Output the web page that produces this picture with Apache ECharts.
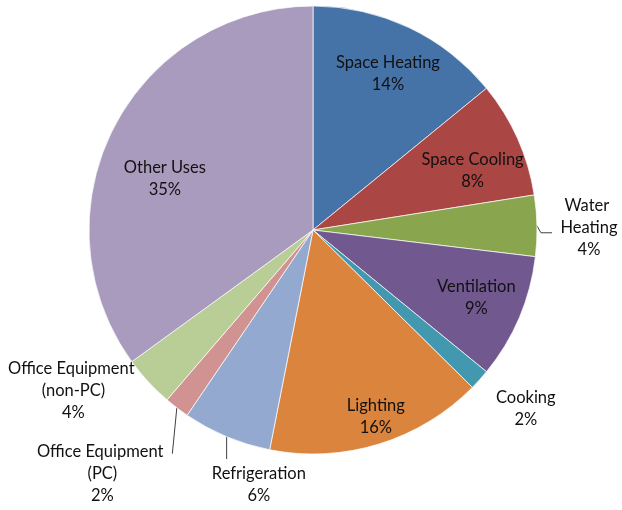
<!DOCTYPE html>
<html><head><meta charset="utf-8">
<script src="https://cdn.jsdelivr.net/npm/echarts@6/dist/echarts.min.js"></script>
<style>html,body{margin:0;padding:0;background:#fff}#c{width:622px;height:510px}</style>
</head><body><div id="c"></div>
<script>
// ---- data ----
const categories = ['Space Heating','Space Cooling','Water Heating','Ventilation','Cooking','Lighting','Refrigeration','Office Equipment (PC)','Office Equipment (non-PC)','Other Uses'];
const shares = [14.1, 8.4, 4.4, 9.0, 1.5, 15.7, 6.4, 1.8, 3.7, 35.0];

// ---- style ----
const colors = ['#4572A7','#AA4643','#89A54E','#71588F','#4198AF','#DB843D','#93A9CF','#D19392','#B9CD96','#A99BBD'];
// label placement: radius fraction, angle shift (deg), wrap width, leader type
const labelStyle = [
  {rf:0.775, da:0.2},
  {rf:0.76,  da:3.8},
  {rf:1.232, da:0.5, w:66, line:'elbow'},
  {rf:0.79,  da:-0.4},
  {rf:1.239, da:-2.0},
  {rf:0.88,  da:-1.5},
  {rf:1.164, da:-10.7, line:'down'},
  {rf:1.438, da:3.4, w:150, line:'toRight'},
  {rf:1.288, da:8.8, w:150},
  {rf:0.70,  da:-7.9}
];
const CX = 313, CY = 230, R = 224;
const FONT = 'Lato';

const total = shares.reduce((a,b)=>a+b,0);
const starts = []; let acc = 0; shares.forEach(v => { starts.push(acc); acc += v; });
function midAngle(i){ return -Math.PI/2 + 2*Math.PI*(starts[i] + shares[i]/2)/total; }

const chart = echarts.init(document.getElementById('c'), null, {renderer:'canvas'});

const dataItems = categories.map((name, i) => {
  const s = labelStyle[i];
  const item = { name, value: shares[i], itemStyle: { color: colors[i] } };
  const lbl = { position: s.line ? 'outside' : 'inside' };
  if (s.w) { lbl.width = s.w; lbl.overflow = 'break'; }
  item.label = lbl;
  if (s.line) item.labelLine = { show: true, length: 0, length2: 0 };
  return item;
});

chart.setOption({
  backgroundColor: '#fff',
  animation: false,
  series: [{
    type: 'pie',
    center: [CX, CY],
    radius: [0, R],
    startAngle: 90,
    clockwise: true,
    avoidLabelOverlap: false,
    itemStyle: { borderColor: 'rgba(255,255,255,0.7)', borderWidth: 1 },
    label: {
      show: true,
      color: '#111',
      fontFamily: FONT,
      fontSize: 16.5,
      lineHeight: 22,
      align: 'center',
      textBorderWidth: 0,
      formatter: p => p.name + '\n' + Math.round(p.percent) + '%'
    },
    labelLine: { show: false, lineStyle: { color: '#404040', width: 1 } },
    labelLayout: function (p) {
      const i = p.dataIndex, s = labelStyle[i];
      const a = midAngle(i) + s.da * Math.PI / 180;
      const x = CX + R * s.rf * Math.cos(a);
      const y = CY + R * s.rf * Math.sin(a);
      const res = { x: x, y: y, align: 'center', verticalAlign: 'middle' };
      const m = midAngle(i);
      const ex = CX + R * Math.cos(m), ey = CY + R * Math.sin(m);
      const w = p.labelRect.width, h = p.labelRect.height;
      if (s.line === 'elbow') res.labelLinePoints = [[ex, ey], [ex + 4, ey + 7], [x - w/2 - 4, ey + 7]];
      else if (s.line === 'down') res.labelLinePoints = [[ex, ey], [ex, y - h/2 - 4]];
      else if (s.line === 'toRight') res.labelLinePoints = [[ex, ey], [x + w/2 - 5, y - h/2 + 13]];
      return res;
    },
    emphasis: { disabled: true },
    data: dataItems
  }]
});
</script>
</body></html>
